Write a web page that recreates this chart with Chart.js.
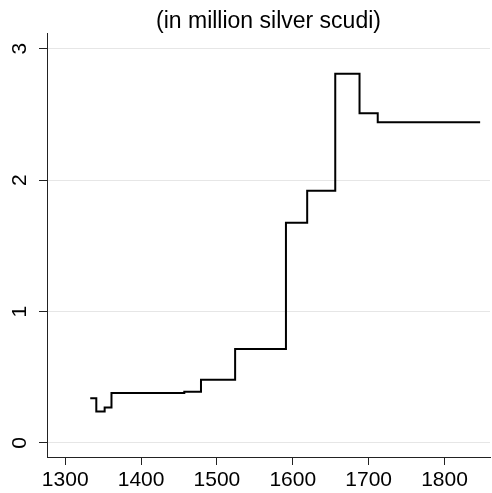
<!DOCTYPE html>
<html>
<head>
<meta charset="utf-8">
<script src="https://cdn.jsdelivr.net/npm/chart.js@4/dist/chart.umd.min.js"></script>
<style>
  html, body { margin: 0; padding: 0; background: #fff; }
  #wrap { width: 492px; height: 493px; }
</style>
</head>
<body>
<div id="wrap"><canvas id="debt"></canvas></div>
<script>
// year at which each new level starts, and the level (million silver scudi)
const years = [1333, 1341, 1352, 1361, 1457, 1479, 1524, 1591, 1619, 1656, 1688, 1712, 1847]
const debt = [0.34, 0.24, 0.27, 0.38, 0.39, 0.48, 0.715, 1.675, 1.92, 2.81, 2.51, 2.44, 2.44]
const xTicks = [1300, 1400, 1500, 1600, 1700, 1800]
const yTicks = [0, 1, 2, 3]
const title = '(in million silver scudi)'

const axisColor = '#222'
const fontFamily = '"Liberation Sans", Arial, Helvetica, sans-serif'

const points = years.map((yr, i) => ({x: yr, y: debt[i]}))

// title centred over the plot area, not the whole canvas
const plotTitle = {
    id: 'plotTitle',
    afterDraw(chart) {
        const ctx = chart.ctx
        const area = chart.chartArea
        ctx.save()
        ctx.font = '23px ' + fontFamily
        ctx.fillStyle = '#000'
        ctx.textAlign = 'center'
        ctx.textBaseline = 'alphabetic'
        ctx.fillText(title, (area.left + area.right) / 2, 28)
        ctx.restore()
    }
}

new Chart(document.getElementById('debt'), {
    type: 'line',
    data: {
        datasets: [{
            data: points,
            stepped: 'before',
            borderColor: '#000',
            borderWidth: 2,
            pointRadius: 0,
            fill: false
        }]
    },
    plugins: [plotTitle],
    options: {
        responsive: true,
        maintainAspectRatio: false,
        animation: false,
        layout: { padding: { left: 0, right: 2, top: 33, bottom: 0 } },
        plugins: {
            legend: { display: false },
            tooltip: { enabled: false },
            title: { display: false }
        },
        scales: {
            x: {
                type: 'linear',
                min: 1276,
                max: 1860,
                afterBuildTicks: s => { s.ticks = xTicks.map(v => ({value: v})) },
                afterFit: s => { s.height = 36 },
                grid: { drawOnChartArea: false, tickLength: 8, tickColor: axisColor },
                border: { display: true, color: axisColor, width: 1 },
                ticks: {
                    color: '#000',
                    padding: 3,
                    maxRotation: 0,
                    font: { family: fontFamily, size: 21 },
                    callback: v => String(v)
                }
            },
            y: {
                min: -0.107,
                max: 3.12,
                afterBuildTicks: s => { s.ticks = yTicks.map(v => ({value: v})) },
                afterFit: s => { s.width = 47 },
                grid: { color: '#e6e6e6', lineWidth: 1, tickLength: 8, tickColor: axisColor },
                border: { display: true, color: axisColor, width: 1 },
                ticks: {
                    color: '#000',
                    padding: 13,
                    minRotation: 90,
                    maxRotation: 90,
                    crossAlign: 'center',
                    font: { family: fontFamily, size: 21 },
                    callback: v => String(v)
                }
            }
        }
    }
})
</script>
</body>
</html>
